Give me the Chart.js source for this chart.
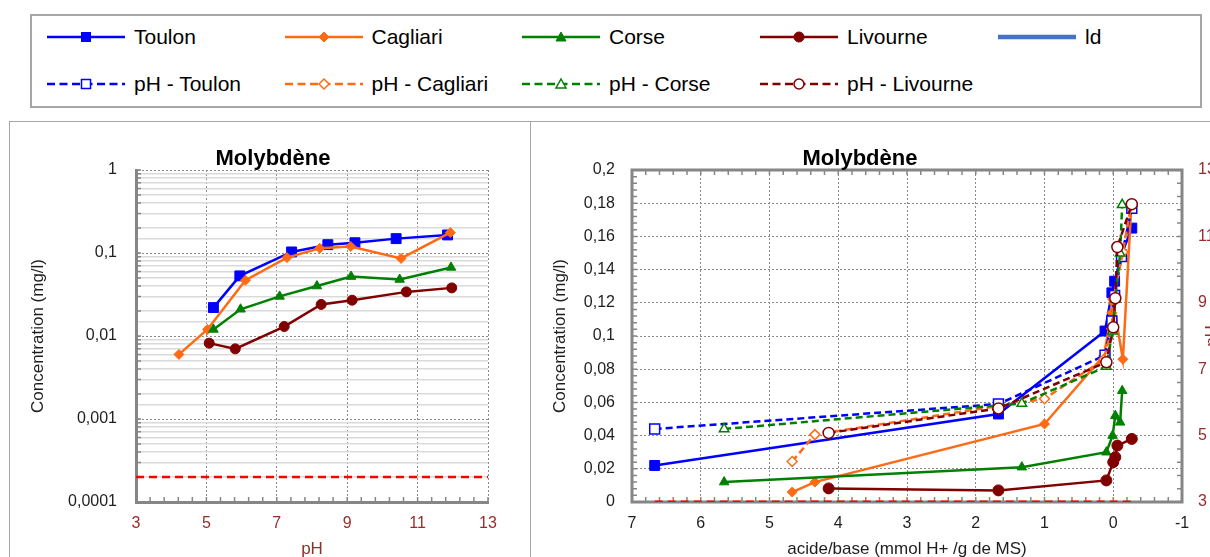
<!DOCTYPE html>
<html>
<head>
<meta charset="utf-8">
<script src="https://cdn.jsdelivr.net/npm/chart.js@4.4.1/dist/chart.umd.min.js"></script>
<style>
  html, body { margin: 0; padding: 0; background: #fff; }
  body { width: 1210px; height: 557px; overflow: hidden; position: relative; }
  #legend-box { position: absolute; left: 30px; top: 14px; width: 1168px; height: 90px; border: 2px solid #a6a6a6; }
  .item { position: absolute; height: 24px; display: flex; align-items: center;
          font: 21px 'Liberation Sans', Arial, sans-serif; color: #000; white-space: nowrap; }
  .item svg { margin-right: 9px; }
  .panel { position: absolute; top: 121px; height: 470px; border: 1.5px solid #a6a6a6; }
  .title { position: absolute; top: 145px; line-height: 24px; transform: translateX(-50%);
           font: bold 22px 'Liberation Sans Narrow', 'Arial Narrow', 'Liberation Sans', sans-serif; color: #000; white-space: nowrap; }
  canvas { position: absolute; }
</style>
</head>
<body>
<div id="legend-box"></div>
<div class="panel" style="left:9px; width:520px;"></div>
<div class="panel" style="left:530px; width:700px;"></div>
<canvas id="left-chart" width="520" height="450" style="left:10px; top:122px;"></canvas>
<canvas id="right-chart" width="700" height="450" style="left:530px; top:122px;"></canvas>
<div class="title" style="left:273px;">Molybdène</div>
<div class="title" style="left:860px;">Molybdène</div>

<script>
// --- DATA ---
// acid/base (mmol H+ /g de MS), pH and Mo concentration (mg/l) per site
const toulonAB   = [6.67, 1.67, 0.12, 0.02, -0.02, -0.12, -0.27];
const toulonPH   = [5.2, 5.95, 7.42, 8.45, 9.22, 10.39, 11.85];
const toulonMo   = [0.022, 0.053, 0.103, 0.126, 0.133, 0.149, 0.165];

const cagliariAB = [4.67, 4.34, 1.0, 0.14, 0.02, 0.0, -0.14, -0.26];
const cagliariPH = [4.22, 5.03, 6.11, 7.29, 8.22, 9.1, 10.53, 11.93];
const cagliariMo = [0.006, 0.012, 0.047, 0.088, 0.114, 0.12, 0.086, 0.176];

const corseAB    = [5.66, 1.33, 0.1, 0.01, -0.03, -0.1, -0.13];
const corsePH    = [5.2, 5.97, 7.08, 8.14, 9.11, 10.49, 11.95];
const corseMo    = [0.012, 0.021, 0.030, 0.040, 0.052, 0.048, 0.067];

const livourneAB = [4.14, 1.67, 0.1, 0.0, -0.03, -0.06, -0.27];
const livournePH = [5.08, 5.82, 7.21, 8.26, 9.14, 10.68, 11.97];
const livourneMo = [0.0082, 0.007, 0.013, 0.024, 0.027, 0.034, 0.038];

// detection limit line
const ldValue = 0.0002;
const ldPhRange = [3, 13];
const ldAbRange = [6.67, -0.27];

const concTitle = 'Concentration (mg/l)';
const phTitle = 'pH';
const abTitle = 'acide/base (mmol H+ /g de MS)';

// --- STYLE ---
const NARROW = "'Liberation Sans Narrow', 'Arial Narrow', 'Liberation Sans', sans-serif";
const BLUE = '#0000ff', ORANGE = '#ff6a14', GREEN = '#008000', MAROON = '#800000', RED = '#ff0000';
const PH_RED = '#962d2d', TXT = '#1e1e1e', AXIS = '#868686';

// --- LEGEND (html) ---
const legendItems = [
  { label: 'Toulon', color: BLUE, marker: 'rect', filled: true, dashed: false },
  { label: 'Cagliari', color: ORANGE, marker: 'diamond', filled: true, dashed: false },
  { label: 'Corse', color: GREEN, marker: 'triangle', filled: true, dashed: false },
  { label: 'Livourne', color: MAROON, marker: 'circle', filled: true, dashed: false },
  { label: 'ld', color: '#4472c4', marker: null, filled: true, dashed: false, width: 4.5 },
  { label: 'pH - Toulon', color: BLUE, marker: 'rect', filled: false, dashed: true },
  { label: 'pH - Cagliari', color: ORANGE, marker: 'diamond', filled: false, dashed: true },
  { label: 'pH - Corse', color: GREEN, marker: 'triangle', filled: false, dashed: true },
  { label: 'pH - Livourne', color: MAROON, marker: 'circle', filled: false, dashed: true }
];
const legendCols = [47, 284.5, 522, 760, 998];
const legendRows = [37, 84];

function markerSvg(m, color, filled) {
  const fill = filled ? color : '#fff';
  const sw = filled ? 1 : 1.5;
  if (m === 'rect') return `<rect x="34.5" y="7.5" width="9" height="9" fill="${fill}" stroke="${color}" stroke-width="${sw}"/>`;
  if (m === 'diamond') return `<polygon points="39,7 44,12 39,17 34,12" fill="${fill}" stroke="${color}" stroke-width="${sw}"/>`;
  if (m === 'triangle') return `<polygon points="39,7 44,16 34,16" fill="${fill}" stroke="${color}" stroke-width="${sw}"/>`;
  if (m === 'circle') return `<circle cx="39" cy="12" r="5" fill="${fill}" stroke="${color}" stroke-width="${sw}"/>`;
  return '';
}

legendItems.forEach((it, i) => {
  const col = i < 5 ? i : i - 5;
  const row = i < 5 ? 0 : 1;
  const div = document.createElement('div');
  div.className = 'item';
  div.style.left = legendCols[col] + 'px';
  div.style.top = (legendRows[row] - 12) + 'px';
  const dash = it.dashed ? 'stroke-dasharray="8 4.5"' : '';
  div.innerHTML = `<svg width="78" height="24"><line x1="0" y1="12" x2="78" y2="12" stroke="${it.color}" stroke-width="${it.width || 2.5}" ${dash}/>${markerSvg(it.marker, it.color, it.filled)}</svg><span>${it.label}</span>`;
  document.body.appendChild(div);
});

// --- HELPERS ---
const pts = (xs, ys) => xs.map((x, i) => ({ x, y: ys[i] }));
const isDecade = v => Math.abs(Math.log10(v) - Math.round(Math.log10(v))) < 1e-6;
const comma = v => String(+v.toFixed(4)).replace('.', ',');

function steps(min, max, step) {
  const out = [];
  for (let v = min; v <= max + 1e-9; v += step) out.push(+v.toFixed(6));
  return out;
}
function logSteps(e0, e1) {
  const out = [];
  for (let e = e0; e < e1; e++) for (let k = 1; k < 10; k++) out.push(k * Math.pow(10, e));
  out.push(Math.pow(10, e1));
  return out;
}

function lineSet(label, color, style, r, data, order, extra) {
  return Object.assign({
    label, data, order,
    borderColor: color, backgroundColor: color, borderWidth: 2.5,
    pointStyle: style, pointRadius: r, pointBorderWidth: 1,
    pointBackgroundColor: color, pointBorderColor: color, tension: 0
  }, extra || {});
}
function openSet(label, color, style, r, data, order) {
  return lineSet(label, color, style, r, data, order, {
    borderDash: [7, 4], pointBackgroundColor: '#fff', pointBorderWidth: 1.5, yAxisID: 'y2'
  });
}

// minor tick marks drawn inside the plot area
function minorTicks(marks) {
  return {
    id: 'minorTicks',
    beforeDatasetsDraw(chart) {
      const { ctx, chartArea: a } = chart;
      ctx.save();
      ctx.strokeStyle = AXIS;
      ctx.lineWidth = 1.5;
      ctx.beginPath();
      marks.forEach(m => {
        const s = chart.scales[m.axis];
        m.values.forEach(v => {
          const p = s.getPixelForValue(v);
          if (m.side === 'bottom') { ctx.moveTo(p, a.bottom); ctx.lineTo(p, a.bottom - m.len); }
          if (m.side === 'top') { ctx.moveTo(p, a.top); ctx.lineTo(p, a.top + m.len); }
          if (m.side === 'left') { ctx.moveTo(a.left, p); ctx.lineTo(a.left + m.len, p); }
          if (m.side === 'right') { ctx.moveTo(a.right, p); ctx.lineTo(a.right - m.len, p); }
        });
      });
      ctx.stroke();
      ctx.restore();
    }
  };
}

const boxPlugin = {
  id: 'box',
  beforeDatasetsDraw(chart) {
    const { ctx, chartArea: a } = chart;
    ctx.save();
    ctx.strokeStyle = AXIS;
    ctx.lineWidth = 3;
    ctx.strokeRect(a.left, a.top, a.right - a.left, a.bottom - a.top);
    ctx.restore();
  }
};

const rightTitle = {
  id: 'rightTitle',
  afterDraw(chart) {
    const { ctx, chartArea: a } = chart;
    ctx.save();
    ctx.translate(682, (a.top + a.bottom) / 2);
    ctx.rotate(-Math.PI / 2);
    ctx.font = '17px ' + NARROW;
    ctx.fillStyle = PH_RED;
    ctx.textAlign = 'center';
    ctx.textBaseline = 'middle';
    ctx.fillText(phTitle, 0, 0);
    ctx.restore();
  }
};

const tickFont = { family: NARROW, size: 16 };
const titleFont = { family: NARROW, size: 17 };

// --- LEFT CHART: concentration vs pH (log) ---
new Chart(document.getElementById('left-chart'), {
  type: 'line',
  data: {
    datasets: [
      lineSet('Toulon', BLUE, 'rect', 7, pts(toulonPH, toulonMo), 5),
      lineSet('Cagliari', ORANGE, 'rectRot', 5, pts(cagliariPH, cagliariMo), 4),
      lineSet('Corse', GREEN, 'triangle', 5.5, pts(corsePH, corseMo), 3),
      lineSet('Livourne', MAROON, 'circle', 5, pts(livournePH, livourneMo), 2),
      lineSet('ld', RED, 'circle', 0, pts(ldPhRange, [ldValue, ldValue]), 1, { borderDash: [8, 5], borderWidth: 2.5 })
    ]
  },
  options: {
    responsive: false,
    animation: false,
    events: [],
    layout: { padding: { left: 0, right: 42, top: 48, bottom: 0 } },
    plugins: { legend: { display: false }, tooltip: { enabled: false } },
    scales: {
      x: {
        type: 'linear', min: 3, max: 13,
        afterFit: s => { s.height = 70; },
        ticks: { stepSize: 2, color: PH_RED, font: tickFont, padding: 12.4 },
        grid: { color: '#8a8a8a', lineWidth: 1, drawTicks: false },
        border: { display: true, color: AXIS, width: 3, dash: [2, 2] },
        title: { display: true, text: phTitle, color: PH_RED, font: titleFont, padding: { top: 0, bottom: 12.8 } }
      },
      y: {
        type: 'logarithmic', min: 0.0001, max: 1,
        afterFit: s => { s.width = 126; },
        ticks: {
          autoSkip: false, color: TXT, font: tickFont, padding: 19,
          callback: v => isDecade(v) ? comma(v) : ''
        },
        grid: {
          drawTicks: false,
          color: c => (c.tick && isDecade(c.tick.value)) ? '#8a8a8a' : '#dadada',
          lineWidth: c => (c.tick && isDecade(c.tick.value)) ? 1 : 1.5
        },
        border: {
          display: true, color: AXIS, width: 3,
          dash: c => (c.tick && isDecade(c.tick.value)) ? [2, 2] : []
        },
        title: { display: true, text: concTitle, color: TXT, font: titleFont, padding: { top: 17.8, bottom: 0 } }
      }
    }
  },
  plugins: [minorTicks([
    { axis: 'x', side: 'bottom', len: 5, values: steps(3, 13, 0.4) },
    { axis: 'y', side: 'left', len: 5, values: logSteps(-4, 0) }
  ])]
});

// --- RIGHT CHART: concentration and pH vs acid/base ---
new Chart(document.getElementById('right-chart'), {
  type: 'line',
  data: {
    datasets: [
      openSet('pH - Livourne', MAROON, 'circle', 5.5, pts(livourneAB, livournePH), 1),
      openSet('pH - Corse', GREEN, 'triangle', 5.5, pts(corseAB, corsePH), 2),
      openSet('pH - Cagliari', ORANGE, 'rectRot', 5, pts(cagliariAB, cagliariPH), 3),
      openSet('pH - Toulon', BLUE, 'rect', 7, pts(toulonAB, toulonPH), 4),
      lineSet('ld', RED, 'circle', 0, pts(ldAbRange, [ldValue, ldValue]), 5, { borderDash: [8, 5], borderWidth: 2.5 }),
      lineSet('Livourne', MAROON, 'circle', 5.5, pts(livourneAB, livourneMo), 6),
      lineSet('Corse', GREEN, 'triangle', 5.5, pts(corseAB, corseMo), 7),
      lineSet('Cagliari', ORANGE, 'rectRot', 5, pts(cagliariAB, cagliariMo), 8),
      lineSet('Toulon', BLUE, 'rect', 7, pts(toulonAB, toulonMo), 9)
    ]
  },
  options: {
    responsive: false,
    animation: false,
    events: [],
    layout: { padding: { left: 0, right: 0, top: 48, bottom: 0 } },
    plugins: { legend: { display: false }, tooltip: { enabled: false } },
    scales: {
      x: {
        type: 'linear', min: -1, max: 7, reverse: true,
        afterFit: s => { s.height = 70; },
        ticks: { stepSize: 1, color: TXT, font: tickFont, padding: 12.4 },
        grid: { color: '#8a8a8a', lineWidth: 1, drawTicks: false },
        border: { display: false, dash: [2, 2] },
        title: { display: true, text: abTitle, color: TXT, font: titleFont, padding: { top: 0, bottom: 12.8 } }
      },
      y: {
        type: 'linear', min: 0, max: 0.2,
        afterFit: s => { s.width = 102; },
        ticks: { stepSize: 0.02, color: TXT, font: tickFont, padding: 17, callback: v => comma(v) },
        grid: { color: '#8a8a8a', lineWidth: 1, drawTicks: false },
        border: { display: false, dash: [2, 2] },
        title: { display: true, text: concTitle, color: TXT, font: titleFont, padding: { top: 19.8, bottom: 0 } }
      },
      y2: {
        type: 'linear', position: 'right', min: 3, max: 13,
        afterFit: s => { s.width = 48; },
        ticks: { stepSize: 2, color: PH_RED, font: tickFont, padding: 16 },
        grid: { drawOnChartArea: false, drawTicks: false },
        border: { display: false }
      }
    }
  },
  plugins: [boxPlugin, rightTitle, minorTicks([
    { axis: 'x', side: 'bottom', len: 5, values: steps(-1, 7, 0.2) },
    { axis: 'x', side: 'top', len: 5, values: steps(-1, 7, 0.2) },
    { axis: 'y', side: 'left', len: 5, values: steps(0, 0.2, 0.004) },
    { axis: 'y2', side: 'right', len: 5, values: steps(3, 13, 0.4) }
  ])]
});
</script>
</body>
</html>
